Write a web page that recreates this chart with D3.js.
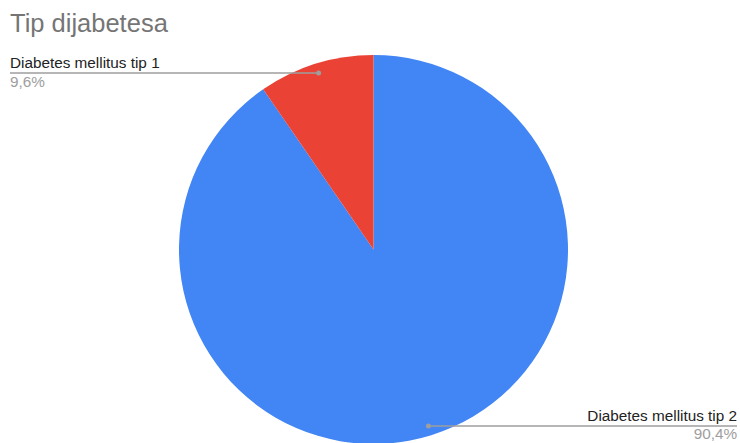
<!DOCTYPE html>
<html><head><meta charset="utf-8">
<script src="https://cdn.jsdelivr.net/npm/d3@7"></script>
<style>body{margin:0;background:#fff;}svg{display:block;font-family:Arial,"Liberation Sans",sans-serif;}</style>
</head><body>
<svg id="c" width="740" height="443"></svg>
<script>
const title = "Tip dijabetesa";
const categories = ["Diabetes mellitus tip 2", "Diabetes mellitus tip 1"];
const values = [90.4, 9.6];
const percentLabels = ["90,4%", "9,6%"];
const colors = ["#4285f4", "#ea4335"];

const svg = d3.select("#c");
const cx = 373.5, cy = 249.5, r = 194.5;

svg.append("text").attr("x", 10).attr("y", 32)
  .attr("font-size", 25.5).attr("fill", "#757575").text(title);

const data = categories.map((c, i) => ({name: c, value: values[i], pct: percentLabels[i], color: colors[i]}));
const pie = d3.pie().sort(null).value(d => d.value);
const arcs = pie(data);
const arc = d3.arc().innerRadius(0).outerRadius(r);
const g = svg.append("g").attr("transform", `translate(${cx},${cy})`);
g.selectAll("path").data(arcs).join("path")
  .attr("d", arc).attr("fill", d => d.data.color);

const inner = d3.arc().innerRadius(r * 0.95).outerRadius(r * 0.95);
arcs.forEach(a => {
  const [px, py] = inner.centroid(a);
  const x = cx + px, y = cy + py;
  const left = x < cx;
  const edge = left ? 10 : 737;
  svg.append("line").attr("x1", x).attr("y1", y).attr("x2", edge).attr("y2", y)
    .attr("stroke", "#9e9e9e").attr("stroke-width", 1.5);
  svg.append("circle").attr("cx", x).attr("cy", y).attr("r", 2.5).attr("fill", "#9e9e9e");
  svg.append("text").attr("x", edge).attr("y", y - 5)
    .attr("text-anchor", left ? "start" : "end")
    .attr("font-size", 15.3).attr("fill", "#222222").text(a.data.name);
  svg.append("text").attr("x", edge).attr("y", y + 13.5)
    .attr("text-anchor", left ? "start" : "end")
    .attr("font-size", 15.3).attr("fill", "#9e9e9e").text(a.data.pct);
});
</script>
</body></html>
